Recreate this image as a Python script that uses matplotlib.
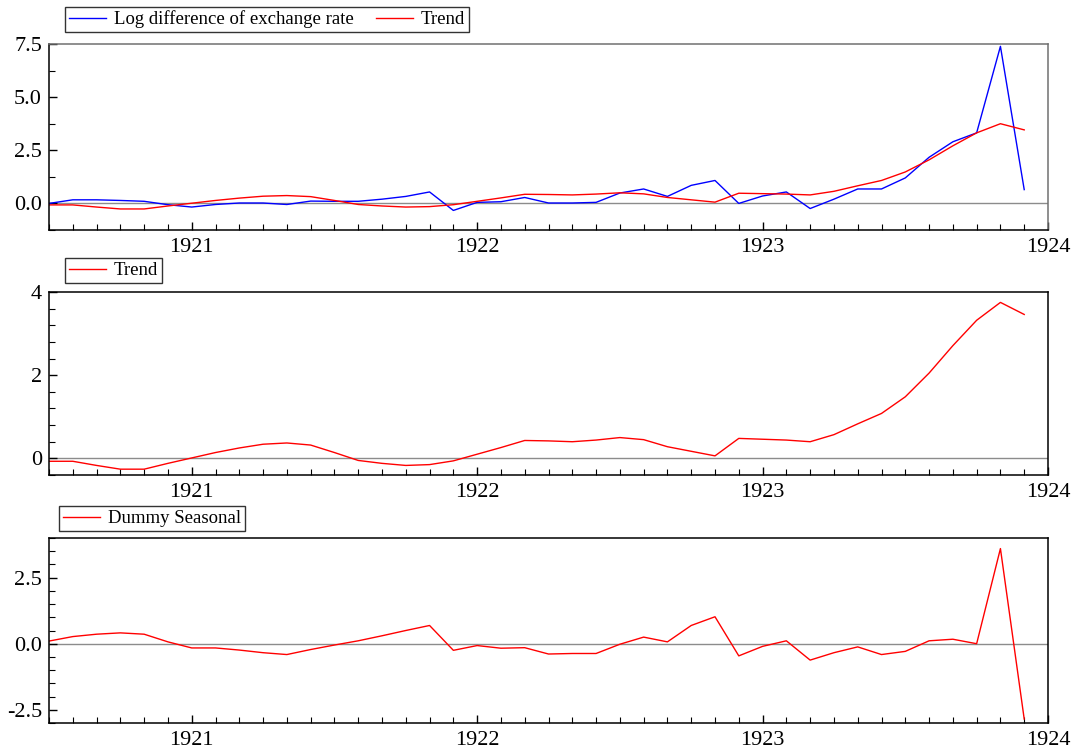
import numpy as np
import matplotlib
matplotlib.use("Agg")
import matplotlib.pyplot as plt
from matplotlib.ticker import MultipleLocator, FixedLocator, FormatStrFormatter

plt.rcParams['font.family'] = ['Liberation Serif', 'DejaVu Serif']
plt.rcParams['axes.unicode_minus'] = False

# monthly observations, July 1920 .. December 1923
start_year = 1920
start_month = 7
n_months = 42

log_diff = [0.00, 0.17, 0.17, 0.14, 0.10, -0.06, -0.17, -0.05, 0.02, 0.02,
            -0.05, 0.11, 0.10, 0.10, 0.20, 0.33, 0.54, -0.33, 0.05, 0.08,
            0.28, 0.02, 0.02, 0.05, 0.49, 0.68, 0.33, 0.85, 1.08, 0.00,
            0.35, 0.54, -0.24, 0.20, 0.68, 0.68, 1.20, 2.17, 2.90, 3.32,
            7.39, 0.65]

trend = [-0.07, -0.07, -0.17, -0.26, -0.26, -0.12, 0.01, 0.14, 0.25, 0.34,
         0.37, 0.32, 0.14, -0.05, -0.12, -0.17, -0.15, -0.06, 0.10, 0.26,
         0.43, 0.42, 0.40, 0.44, 0.50, 0.45, 0.28, 0.17, 0.06, 0.48,
         0.46, 0.44, 0.40, 0.57, 0.83, 1.08, 1.48, 2.05, 2.71, 3.32,
         3.75, 3.46]

seasonal = [0.10, 0.27, 0.36, 0.41, 0.36, 0.07, -0.16, -0.16, -0.24, -0.34,
            -0.41, -0.22, -0.05, 0.11, 0.30, 0.50, 0.69, -0.25, -0.07, -0.17,
            -0.15, -0.39, -0.37, -0.37, -0.02, 0.25, 0.07, 0.69, 1.02, -0.46,
            -0.10, 0.11, -0.62, -0.34, -0.12, -0.41, -0.29, 0.11, 0.17, 0.00,
            3.60, -2.85]

years = [1921, 1922, 1923, 1924]

t = start_year + (start_month - 1 + np.arange(n_months)) / 12.0

BLUE = '#0000ff'
RED = '#ff0000'

fig = plt.figure(figsize=(10.77, 7.49), dpi=100)
ax1 = fig.add_axes([49/1077, 1 - 230/749, 999/1077, 186/749])
ax2 = fig.add_axes([49/1077, 1 - 475/749, 999/1077, 183/749])
ax3 = fig.add_axes([49/1077, 1 - 723/749, 999/1077, 185/749])


def style(ax, ylim, major, minor, fmt, leg_x, leg_y, ncol=1):
    ax.axhline(0, color='#8c8c8c', lw=1.0, zorder=1)
    ax.set_xlim(start_year + (start_month - 1) / 12.0, years[-1])
    ax.set_ylim(*ylim)
    ax.xaxis.set_major_locator(FixedLocator(years))
    ax.xaxis.set_major_formatter(FormatStrFormatter('%d'))
    ax.xaxis.set_minor_locator(MultipleLocator(1 / 12.0))
    ax.yaxis.set_major_locator(FixedLocator(major))
    ax.yaxis.set_major_formatter(FormatStrFormatter(fmt))
    ax.yaxis.set_minor_locator(MultipleLocator(minor))
    ax.tick_params(which='both', direction='in', top=False, right=False,
                   labelsize=16, color='black')
    ax.tick_params(which='major', length=6, width=1.0)
    ax.tick_params(which='minor', length=4, width=0.8)
    ax.tick_params(axis='x', pad=6)
    ax.tick_params(axis='y', pad=5)
    for s in ax.spines.values():
        s.set_linewidth(1.1)
        s.set_color('black')
    leg = ax.legend(loc='lower left', bbox_to_anchor=(leg_x, leg_y), ncol=ncol,
                    fontsize=13.5, frameon=True, fancybox=False, framealpha=1,
                    borderaxespad=0, borderpad=0.2, handlelength=2.0,
                    handletextpad=0.4, columnspacing=1.2)
    leg.get_frame().set_edgecolor('#333333')
    leg.get_frame().set_linewidth(1.0)


ax1.plot(t, log_diff, color=BLUE, lw=1.0, label='Log difference of exchange rate')
ax1.plot(t, trend, color=RED, lw=1.0, label='Trend')
style(ax1, (-1.25, 7.5), [0, 2.5, 5.0, 7.5], 1.25, '%.1f', 0.016, 1.065, ncol=2)
ax1.spines['top'].set_color('#707070')
ax1.spines['right'].set_color('#707070')

ax2.plot(t, trend, color=RED, lw=1.0, label='Trend')
style(ax2, (-0.4, 4.0), [0, 2, 4], 0.4, '%d', 0.016, 1.049)

ax3.plot(t, seasonal, color=RED, lw=1.0, label='Dummy Seasonal')
style(ax3, (-3.0, 4.0), [-2.5, 0, 2.5], 0.5, '%.1f', 0.010, 1.038)

fig.savefig('out.png', dpi=100)
